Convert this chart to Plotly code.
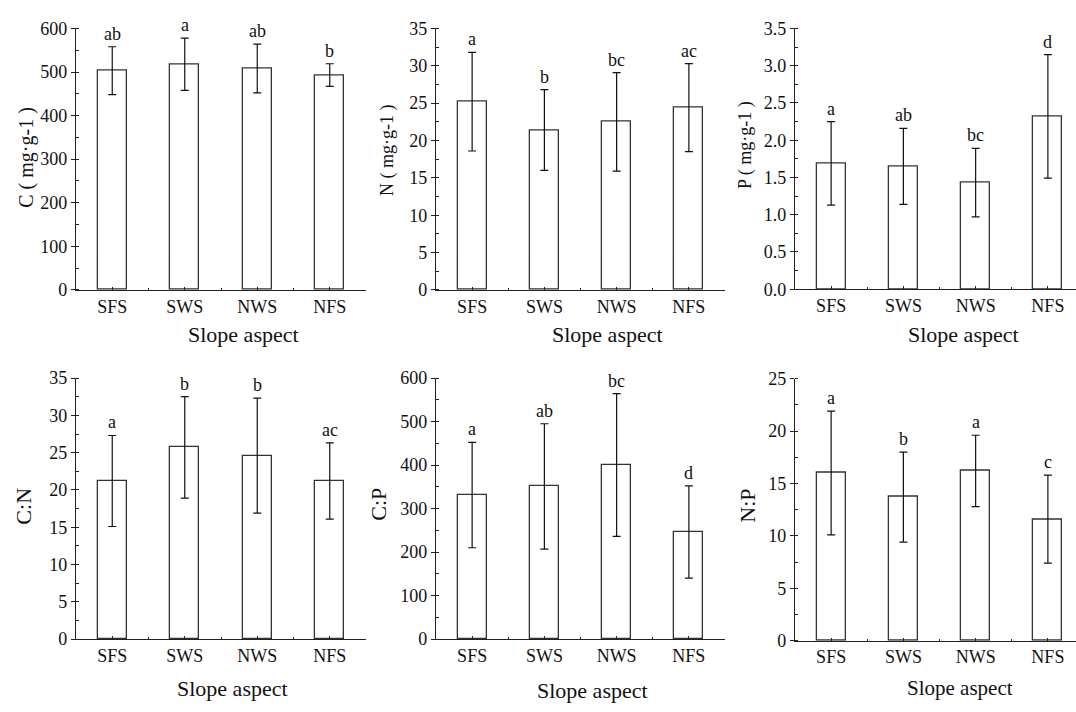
import plotly.graph_objects as go

W, H = 1076, 712

categories = ["SFS", "SWS", "NWS", "NFS"]

c_mean = [503, 518, 508, 493]
c_err = [55, 60, 56, 26]
c_letters = ["ab", "a", "ab", "b"]

n_mean = [25.2, 21.4, 22.5, 24.4]
n_err = [6.6, 5.4, 6.6, 5.9]
n_letters = ["a", "b", "bc", "ac"]

p_mean = [1.69, 1.65, 1.43, 2.32]
p_err = [0.56, 0.51, 0.46, 0.83]
p_letters = ["a", "ab", "bc", "d"]

cn_mean = [21.2, 25.7, 24.6, 21.2]
cn_err = [6.1, 6.8, 7.7, 5.1]
cn_letters = ["a", "b", "b", "ac"]

cp_mean = [331, 351, 400, 246]
cp_err = [121, 144, 164, 106]
cp_letters = ["a", "ab", "bc", "d"]

np_mean = [16.0, 13.7, 16.2, 11.6]
np_err = [5.9, 4.3, 3.4, 4.2]
np_letters = ["a", "b", "a", "c"]

FONT = "Liberation Serif"


def px_x(v):
    return v / W


def px_y(v):
    return 1 - v / H


panels = [
    dict(mean=c_mean, err=c_err, letters=c_letters, yr=[0, 600], dt=100, fmt="d",
         xd=(76, 366), yd=(19, 288), xmax=3.5,
         ytitle="C ( mg·g-1 )", yt_pos=(27, 152), yt_size=20,
         xt_pos=(243, 334), xt_size=22),
    dict(mean=n_mean, err=n_err, letters=n_letters, yr=[0, 35], dt=5, fmt="d",
         xd=(436, 725), yd=(19, 288), xmax=3.5,
         ytitle="N ( mg·g-1 )", yt_pos=(388, 145), yt_size=18,
         xt_pos=(607, 334), xt_size=22),
    dict(mean=p_mean, err=p_err, letters=p_letters, yr=[0, 3.5], dt=0.5, fmt=".1f",
         xd=(795, 1076), yd=(19, 287.3), xmax=3.389,
         ytitle="P ( mg·g-1 )", yt_pos=(745, 139), yt_size=18,
         xt_pos=(963, 334), xt_size=22),
    dict(mean=cn_mean, err=cn_err, letters=cn_letters, yr=[0, 35], dt=5, fmt="d",
         xd=(76, 366), yd=(378.7, 647.3), xmax=3.5,
         ytitle="C:N", yt_pos=(24, 511), yt_size=22,
         xt_pos=(232, 698), xt_size=22),
    dict(mean=cp_mean, err=cp_err, letters=cp_letters, yr=[0, 600], dt=100, fmt="d",
         xd=(436, 725), yd=(378.7, 647.3), xmax=3.5,
         ytitle="C:P", yt_pos=(379, 509), yt_size=22,
         xt_pos=(592, 700), xt_size=22),
    dict(mean=np_mean, err=np_err, letters=np_letters, yr=[0, 25], dt=5, fmt="d",
         xd=(795, 1076), yd=(379.3, 649), xmax=3.389,
         ytitle="N:P", yt_pos=(748, 510), yt_size=22,
         xt_pos=(960, 698), xt_size=21),
]

fig = go.Figure()
xs = list(range(len(categories)))
annotations = []
LINE = "#222222"

for i, p in enumerate(panels, start=1):
    sfx = "" if i == 1 else str(i)
    fig.add_trace(go.Bar(
        x=xs, y=p["mean"], width=0.4,
        marker=dict(color="white", line=dict(color="#333333", width=1.3)),
        error_y=dict(type="data", array=p["err"], visible=True,
                     color="#111111", thickness=1.2, width=4),
        xaxis="x" + sfx, yaxis="y" + sfx, showlegend=False,
    ))
    fig.layout["xaxis" + sfx] = dict(
        domain=[px_x(p["xd"][0]), px_x(p["xd"][1])],
        range=[-0.5, p["xmax"]], anchor="y" + sfx,
        tickmode="array", tickvals=xs, ticktext=categories,
        ticks="inside", ticklen=3, tickcolor=LINE, tickwidth=1,
        minor=dict(tickmode="array", tickvals=[0.5, 1.5, 2.5], ticks="inside",
                   ticklen=2, tickcolor=LINE),
        showline=True, linecolor=LINE, linewidth=1.2,
        showgrid=False, zeroline=False,
        tickfont=dict(family=FONT, size=18, color="#111111"),
        fixedrange=True,
    )
    fig.layout["yaxis" + sfx] = dict(
        domain=[px_y(p["yd"][1]), px_y(p["yd"][0])],
        range=p["yr"], anchor="x" + sfx,
        dtick=p["dt"], tick0=0, tickformat=p["fmt"],
        ticks="outside", ticklen=4, tickcolor=LINE, tickwidth=1,
        minor=dict(dtick=p["dt"] / 2, tick0=0, ticks="inside", ticklen=3,
                   tickcolor=LINE),
        showline=True, linecolor=LINE, linewidth=1.2,
        showgrid=False, zeroline=False,
        tickfont=dict(family=FONT, size=18, color="#111111"),
        fixedrange=True,
    )
    for xi, m, e, lab in zip(xs, p["mean"], p["err"], p["letters"]):
        annotations.append(dict(
            x=xi, y=m + e, xref="x" + sfx, yref="y" + sfx, text=lab,
            showarrow=False, yanchor="bottom", yshift=1,
            font=dict(family=FONT, size=18, color="#111111"),
        ))
    annotations.append(dict(
        x=px_x(p["yt_pos"][0]), y=px_y(p["yt_pos"][1]), xref="paper", yref="paper",
        text=p["ytitle"], textangle=-90, showarrow=False,
        xanchor="center", yanchor="middle",
        font=dict(family=FONT, size=p["yt_size"], color="#111111"),
    ))
    annotations.append(dict(
        x=px_x(p["xt_pos"][0]), y=px_y(p["xt_pos"][1]), xref="paper", yref="paper",
        text="Slope aspect", showarrow=False,
        xanchor="center", yanchor="middle",
        font=dict(family=FONT, size=p["xt_size"], color="#111111"),
    ))

fig.update_layout(
    width=W, height=H,
    margin=dict(l=0, r=0, t=0, b=0),
    paper_bgcolor="white", plot_bgcolor="white",
    annotations=annotations,
    bargap=0,
    font=dict(family=FONT),
)

fig.write_html(
    "out.html",
    config={"displayModeBar": False},
    post_script="document.body.style.margin='0';document.body.style.overflow='hidden';",
)
